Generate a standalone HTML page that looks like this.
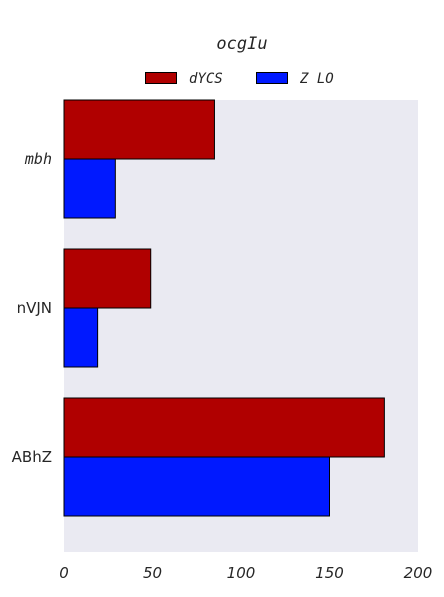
<!DOCTYPE html>
<html><head><meta charset="utf-8"><style>
body{margin:0;background:#fff;width:444px;height:592px;overflow:hidden}
text{fill:#262626}
</style></head><body>
<svg id="chart" width="444" height="592" xmlns="http://www.w3.org/2000/svg">
<rect x="64" y="100" width="354" height="452" fill="#eaeaf2"/>
<text x="242" y="49" text-anchor="middle" font-family="DejaVu Sans Mono, monospace" font-style="italic" font-size="17">ocgIu</text>
<g>
<rect x="145.5" y="72.5" width="31" height="11" fill="#b00000" stroke="#000" stroke-width="1"/>
<text x="189" y="83" font-family="DejaVu Sans Mono, monospace" font-style="italic" font-size="14">dYCS</text>
<rect x="256.5" y="72.5" width="31" height="11" fill="#0019ff" stroke="#000" stroke-width="1"/>
<text x="300" y="83" font-family="DejaVu Sans Mono, monospace" font-style="italic" font-size="14">Z LO</text>
</g>
<g id="bars"></g>
<g id="yticks"></g>
<g id="xticks"></g>
</svg>
<script>
const categories=["mbh","nVJN","ABhZ"];
const dycsValues=[85,49,181];
const zloValues=[29,19,150];
const xTickLabels=[0,50,100,150,200];
const NS="http://www.w3.org/2000/svg";
const x0=64,x1=418,xmax=200;
function xs(v){return x0+(x1-x0)*v/xmax;}
const c0=159,step=149;
function yc(i){return c0+i*step;}
const bh=59;
const bars=document.getElementById('bars');
const yt=document.getElementById('yticks');
const xt=document.getElementById('xticks');
categories.forEach((c,i)=>{
  [[dycsValues[i],"#b00000",-bh,"dycs"],[zloValues[i],"#0019ff",0,"zlo"]].forEach(s=>{
    const r=document.createElementNS(NS,'rect');
    
    
    r.setAttribute('x',x0);r.setAttribute('y',yc(i)+s[2]);
    r.setAttribute('width',xs(s[0])-x0);r.setAttribute('height',bh);
    r.setAttribute('fill',s[1]);r.setAttribute('stroke','#000');r.setAttribute('stroke-width','1');
    bars.appendChild(r);
  });
  const t=document.createElementNS(NS,'text');
  
  
  t.setAttribute('x',52);t.setAttribute('y',yc(i)+5);t.setAttribute('text-anchor','end');
  t.setAttribute('font-family','DejaVu Sans, sans-serif');t.setAttribute('font-size','15');
  if(i===0){t.setAttribute('font-style','italic');t.setAttribute('font-family','DejaVu Sans Mono, monospace');}
  t.textContent=c;yt.appendChild(t);
});
xTickLabels.forEach(v=>{
  const t=document.createElementNS(NS,'text');
  
  
  t.setAttribute('x',xs(v));t.setAttribute('y',578);t.setAttribute('text-anchor','middle');
  t.setAttribute('font-family','DejaVu Sans, sans-serif');t.setAttribute('font-style','italic');t.setAttribute('font-size','15');
  t.textContent=v;xt.appendChild(t);
});
</script>
</body></html>
